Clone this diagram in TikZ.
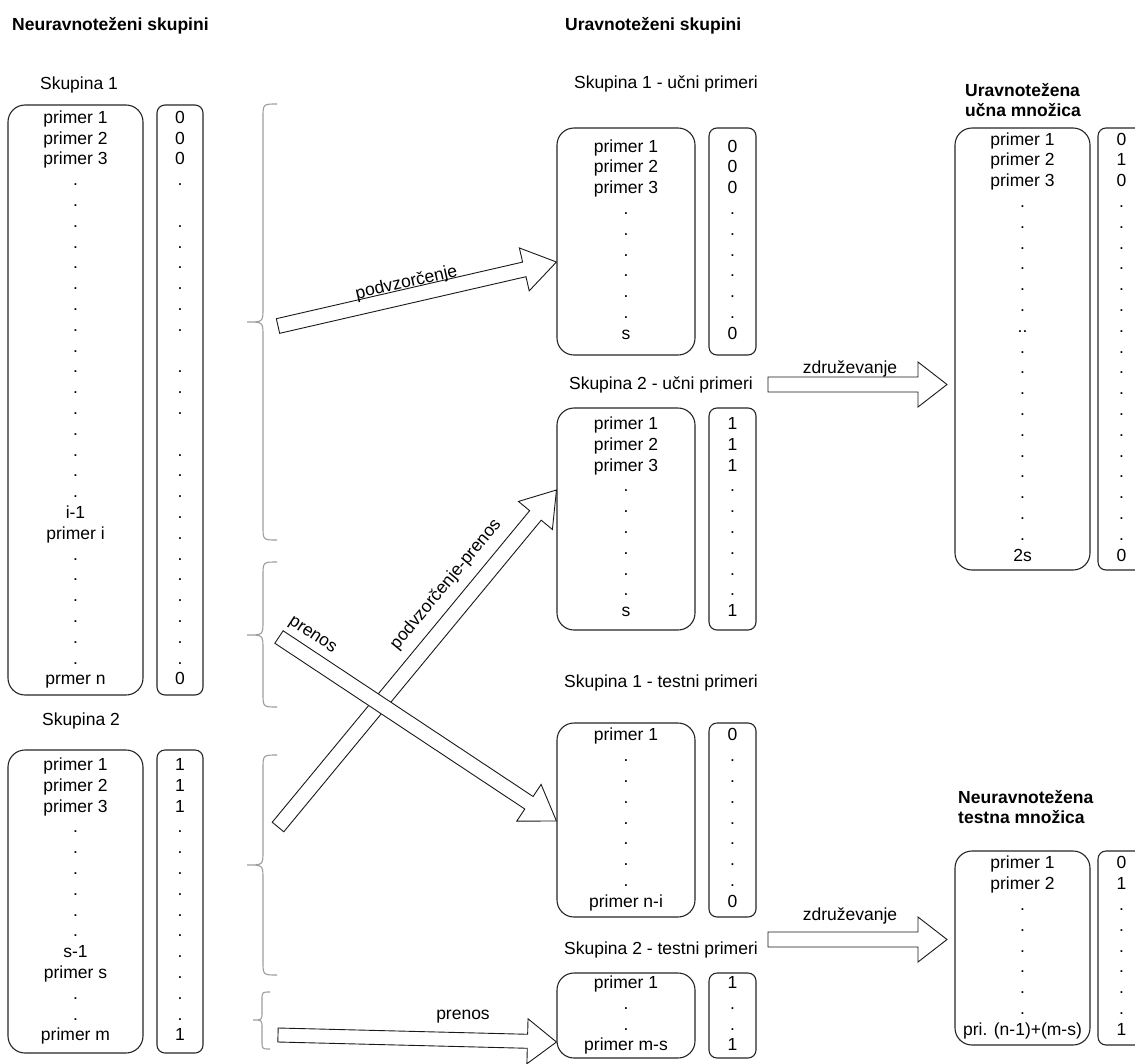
\documentclass[tikz,border=0pt]{standalone}
\usepackage{fontspec}
\setmainfont{Liberation Sans}
\usetikzlibrary{calc}
\newcommand\fs{\fontsize{17.5pt}{20.8pt}\selectfont}
\newcommand\dx{.\\}
\newcommand\barr[5]{%
  \coordinate (#1h) at ($(#2)!#5!(#1)$);
  \draw[barrow] ($(#1)!#3!90:(#2)$) -- ($(#1h)!#3!90:(#2)$) -- ($(#1h)!#4!90:(#2)$) -- (#2)
    -- ($(#1h)!#4!-90:(#2)$) -- ($(#1h)!#3!-90:(#2)$) -- ($(#1)!#3!-90:(#2)$) -- cycle;}
\newcommand\cbrace[6]{%
  \draw[brc] ({#1+#5},#2) .. controls (#1,#2) .. (#1,{#2+#5}) -- (#1,{#3-#5})
    .. controls (#1,#3) .. ({#1-#6},#3) .. controls (#1,#3) .. (#1,{#3+#5})
    -- (#1,{#4-#5}) .. controls (#1,#4) .. ({#1+#5},#4);}
\begin{document}
\begin{tikzpicture}[x=1pt,y=-1pt,
  box/.style={draw=black!85, line width=1.1pt, rounded corners=17pt, inner sep=0pt, align=center, font=\fs},
  vbox/.style={draw=black!85, line width=1.1pt, rounded corners=8pt, inner sep=0pt, align=center, font=\fs},
  lbl/.style={inner sep=0pt, font=\fs, anchor=base},
  ttl/.style={inner sep=0pt, font=\fs\bfseries, align=left},
  barrow/.style={draw=black!90, fill=white, line width=0.9pt, line join=miter},
  brc/.style={draw=black!38, line width=1.1pt}]
\useasboundingbox (0,0) rectangle (1135,1063);
\fill[white] (0,0) rectangle (1135,1063);
\clip (0,0) rectangle (1135,1063);

% titles
\node[ttl, anchor=base west] (t1) at (12,30) {Neuravnoteženi skupini};
\node[ttl, anchor=base west] (t2) at (565,30) {Uravnoteženi skupini};

% left groups
\node[lbl] (s1) at (79,89) {Skupina 1};
\node[box, minimum width=135pt, minimum height=590pt] (l1) at (75.5,400)
 {\strut primer 1\\primer 2\\primer 3\\\dx\dx\dx\dx\dx\dx\dx\dx\dx\dx\dx\dx\dx\dx\dx\dx i-1\\primer i\\\dx\dx\dx\dx\dx\dx prmer n\strut};
\node[vbox, minimum width=46pt, minimum height=590pt] (v1) at (180,400)
 {\strut 0\\0\\0\\.\\\strut\\\dx\dx\dx\dx\dx\dx\strut\\\dx\dx\dx\strut\\\dx\dx\dx\dx\dx\dx\dx\dx\dx\dx\dx 0\strut};

\node[lbl] (s2) at (81,725) {Skupina 2};
\node[box, minimum width=135pt, minimum height=303pt] (l2) at (75.5,901.5)
 {\strut primer 1\\primer 2\\primer 3\\\dx\dx\dx\dx\dx\dx s-1\\primer s\\\dx\dx primer m\strut};
\node[vbox, minimum width=46pt, minimum height=303pt] (v2) at (180,901.5)
 {\strut 1\\1\\1\\\dx\dx\dx\dx\dx\dx\dx\dx\dx\dx 1\strut};

% middle groups
\node[lbl] (m1l) at (666,88) {Skupina 1 - učni primeri};
\node[box, minimum width=138pt, minimum height=227pt] (m1) at (626,241.5)
 {\strut primer 1\\primer 2\\primer 3\\\dx\dx\dx\dx\dx\dx s\strut};
\node[vbox, minimum width=47pt, minimum height=227pt] (vm1) at (732.5,241.5)
 {\strut 0\\0\\0\\\dx\dx\dx\dx\dx\dx 0\strut};

\node[lbl] (m2l) at (661,389) {Skupina 2 - učni primeri};
\node[box, minimum width=138pt, minimum height=222pt] (m2) at (626,519)
 {\strut primer 1\\primer 2\\primer 3\\\dx\dx\dx\dx\dx\dx s\strut};
\node[vbox, minimum width=47pt, minimum height=222pt] (vm2) at (732.5,519)
 {\strut 1\\1\\1\\\dx\dx\dx\dx\dx\dx 1\strut};

\node[lbl] (m3l) at (661,687) {Skupina 1 - testni primeri};
\node[box, minimum width=138pt, minimum height=194pt] (m3) at (626,820)
 {\strut primer 1\\\dx\dx\dx\dx\dx\dx\dx primer n-i\strut};
\node[vbox, minimum width=47pt, minimum height=194pt] (vm3) at (732.5,820)
 {\strut 0\\\dx\dx\dx\dx\dx\dx\dx 0\strut};

\node[lbl] (m4l) at (661,954) {Skupina 2 - testni primeri};
\node[box, minimum width=138pt, minimum height=85pt] (m4) at (626,1015.5)
 {\strut primer 1\\\dx\dx primer m-s\strut};
\node[vbox, minimum width=47pt, minimum height=85pt] (vm4) at (732.5,1015.5)
 {\strut 1\\\dx\dx 1\strut};

% right sets
\node[ttl, anchor=north west] (r1l) at (965,81.4) {\strut Uravnotežena\\učna množica};
\node[box, minimum width=135pt, minimum height=442pt] (r1) at (1022.5,349)
 {\strut primer 1\\primer 2\\primer 3\\\dx\dx\dx\dx\dx\dx ..\\\dx\dx\dx\dx\dx\dx\dx\dx\dx\dx 2s\strut};
\node[vbox, minimum width=47pt, minimum height=442pt] (vr1) at (1121.5,349)
 {\strut 0\\1\\0\\\dx\dx\dx\dx\dx\dx\dx\dx\dx\dx\dx\dx\dx\dx\dx\dx\dx 0\strut};

\node[ttl, anchor=north west] (r2l) at (958,788.4) {\strut Neuravnotežena\\testna množica};
\node[box, minimum width=135pt, minimum height=194pt] (r2) at (1022.5,948)
 {\strut primer 1\\primer 2\\\dx\dx\dx\dx\dx\dx pri. (n-1)+(m-s)\strut};
\node[vbox, minimum width=47pt, minimum height=194pt] (vr2) at (1121.5,948)
 {\strut 0\\1\\\dx\dx\dx\dx\dx\dx 1\strut};

% braces
\cbrace{263}{104}{322}{540}{14}{16}
\cbrace{263}{562}{635}{707}{14}{16}
\cbrace{263}{755}{865}{975}{14}{16}
\cbrace{262}{992}{1020}{1049}{8}{9}

% arrow end points
\coordinate (a1t) at (278,326);   \coordinate (a1p) at (m1.west |- 0,262);
\coordinate (a2t) at (278,827);   \coordinate (a2p) at (m2.west |- 0,490);
\coordinate (a3t) at (279,637);   \coordinate (a3p) at (m3.west |- 0,821);
\coordinate (a4t) at (278,1035);  \coordinate (a4p) at (m4.west |- 0,1042);
\coordinate (a5t) at (768,384.5); \coordinate (a5p) at (947,384.5);
\coordinate (a6t) at (768,939.5); \coordinate (a6p) at (947,939.5);

\barr{a1t}{a1p}{7.5pt}{22pt}{33pt}
\barr{a2t}{a2p}{7.5pt}{22pt}{33pt}
\barr{a3t}{a3p}{7.5pt}{22pt}{33pt}
\barr{a4t}{a4p}{7pt}{22.5pt}{29pt}
\barr{a5t}{a5p}{7.5pt}{22.5pt}{29pt}
\barr{a6t}{a6p}{7.5pt}{22.5pt}{29pt}

% arrow labels
\node[inner sep=0pt, font=\fs, rotate=12.9] (a1l) at (406.5,283) {podvzorčenje};
\node[inner sep=0pt, font=\fs, rotate=50.4] (a2l) at (446,584.5) {podvzorčenje-prenos};
\node[inner sep=0pt, font=\fs, rotate=-33.3] (a3l) at (312,636) {prenos};
\node[inner sep=0pt, font=\fs] (a4l) at (463,1017) {prenos};
\node[lbl] (a5l) at (850,373) {združevanje};
\node[lbl] (a6l) at (850,920) {združevanje};
\end{tikzpicture}
\end{document}
